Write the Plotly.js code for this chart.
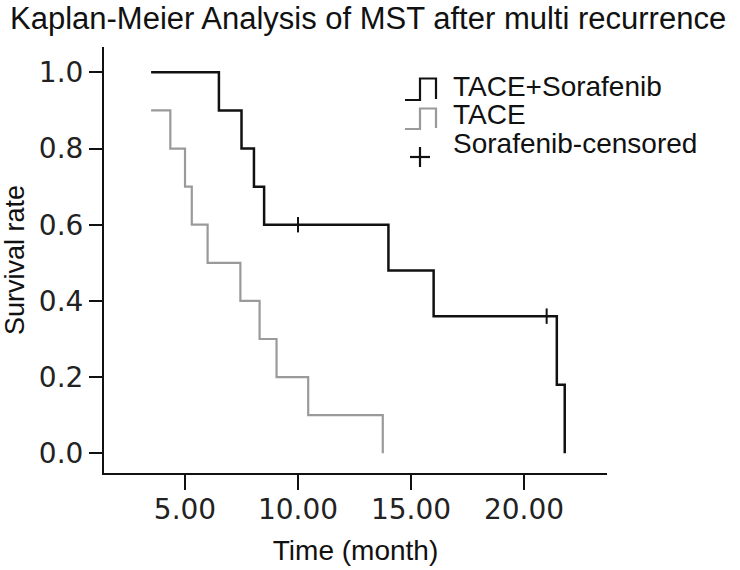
<!DOCTYPE html>
<html>
<head>
<meta charset="utf-8">
<script src="https://cdn.plot.ly/plotly-3.0.1.min.js"></script>
<style>html,body{margin:0;padding:0;background:#fff;}#chart{width:740px;height:570px;}</style>
</head>
<body>
<div id="chart"></div>
<script>
// ---- data ----
const comboTime = [3.5, 6.5, 7.5, 8.05, 8.5, 14.0, 16.0, 21.45, 21.8];
const comboSurv = [1.0, 0.9, 0.8, 0.7, 0.6, 0.48, 0.36, 0.18, 0.0];
const taceTime = [3.5, 4.35, 5.0, 5.3, 6.0, 7.45, 8.3, 9.05, 10.45, 13.75];
const taceSurv = [0.9, 0.8, 0.7, 0.6, 0.5, 0.4, 0.3, 0.2, 0.1, 0.0];
const censorTime = [10.0, 21.0];
const censorSurv = [0.6, 0.36];
const xTickVals = [5, 10, 15, 20];
const xTickText = ['5.00', '10.00', '15.00', '20.00'];
const yTickVals = [0, 0.2, 0.4, 0.6, 0.8, 1.0];
const yTickText = ['0.0', '0.2', '0.4', '0.6', '0.8', '1.0'];
const legendLabels = ['TACE+Sorafenib', 'TACE', 'Sorafenib-censored'];

// ---- layout geometry ----
const W = 740, H = 570;
const M = {l: 104, r: 133, t: 47, b: 97};
const pw = W - M.l - M.r, ph = H - M.t - M.b;
const px = x => (x - M.l) / pw;
const py = y => (H - M.b - y) / ph;
const TXT = 'Liberation Sans, Arial, sans-serif';
const NUM = 'DejaVu Sans, sans-serif';
const BLACK = '#111111', GREY = '#9a9a9a';

const traces = [
  {x: comboTime, y: comboSurv, mode: 'lines', line: {shape: 'hv', color: BLACK, width: 2.5}, name: legendLabels[0], showlegend: false},
  {x: taceTime, y: taceSurv, mode: 'lines', line: {shape: 'hv', color: GREY, width: 2.2}, name: legendLabels[1], showlegend: false},
  {x: censorTime, y: censorSurv, mode: 'markers', marker: {symbol: 'line-ns', size: 11, line: {color: BLACK, width: 2}}, name: legendLabels[2], showlegend: false}
];

// custom legend (step-shaped icons like the reference)
function stepIcon(x0, yb, yt, color) {
  return {type: 'path', xref: 'paper', yref: 'paper',
    path: `M ${px(x0)} ${py(yb)} L ${px(x0+15)} ${py(yb)} L ${px(x0+15)} ${py(yt)} L ${px(x0+31)} ${py(yt)} L ${px(x0+31)} ${py(yb-1)}`,
    line: {color: color, width: 2.2}};
}
const shapes = [
  stepIcon(405, 100, 78.5, BLACK),
  stepIcon(405, 129, 108.5, GREY),
  {type: 'line', xref: 'paper', yref: 'paper', x0: px(410), x1: px(430), y0: py(157), y1: py(157), line: {color: BLACK, width: 2.2}},
  {type: 'line', xref: 'paper', yref: 'paper', x0: px(420), x1: px(420), y0: py(147), y1: py(167), line: {color: BLACK, width: 2.2}}
];
const legendY = [86, 115, 143];
const annotations = legendLabels.map((t, i) => ({
  text: t, xref: 'paper', yref: 'paper', x: px(451), y: py(legendY[i]),
  xanchor: 'left', yanchor: 'middle', showarrow: false,
  font: {family: TXT, size: 28, color: BLACK}
}));

const layout = {
  width: W, height: H,
  margin: M,
  paper_bgcolor: '#ffffff', plot_bgcolor: '#ffffff',
  showlegend: false,
  title: {text: 'Kaplan-Meier Analysis of MST after multi recurrence',
    font: {family: TXT, size: 31, color: BLACK},
    x: 10 / W, xref: 'container', xanchor: 'left', y: 1 - 18 / H, yref: 'container', yanchor: 'middle'},
  xaxis: {
    range: [1.416, 23.67], showgrid: false, zeroline: false,
    showline: true, linecolor: BLACK, linewidth: 2,
    ticks: 'outside', ticklen: 15, tickwidth: 2, tickcolor: BLACK,
    tickvals: xTickVals, ticktext: xTickText,
    tickfont: {family: NUM, size: 28, color: '#222'},
    ticklabelstandoff: -5,
    title: {text: 'Time (month)', font: {family: TXT, size: 28, color: BLACK}, standoff: 16},
    automargin: false
  },
  yaxis: {
    range: [-0.0517, 1.0665], showgrid: false, zeroline: false,
    showline: true, linecolor: BLACK, linewidth: 2,
    ticks: 'outside', ticklen: 13, tickwidth: 2, tickcolor: BLACK,
    tickvals: yTickVals, ticktext: yTickText,
    tickfont: {family: NUM, size: 28, color: '#222'},
    title: {text: 'Survival rate', font: {family: TXT, size: 27, color: BLACK}, standoff: 10},
    automargin: false
  },
  shapes: shapes,
  annotations: annotations
};

Plotly.newPlot('chart', traces, layout, {displayModeBar: false, staticPlot: true});
</script>
</body>
</html>
